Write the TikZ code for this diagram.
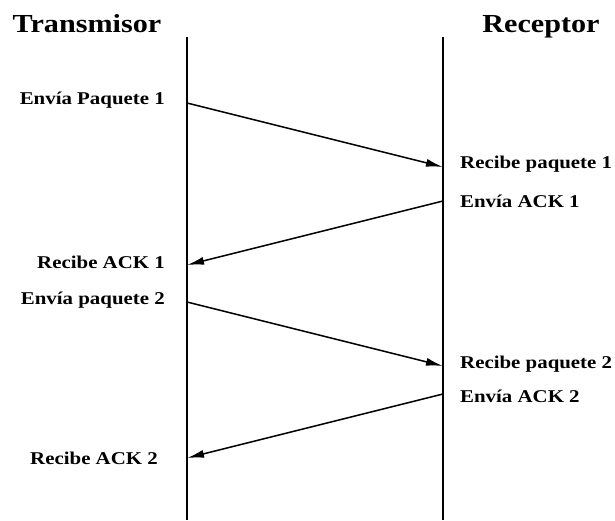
\documentclass[tikz,border=0pt]{standalone}
\usepackage{fontspec}
\setmainfont{Liberation Serif}[FakeStretch=1.16]
\usetikzlibrary{arrows.meta}
\begin{document}
\begin{tikzpicture}[x=1pt,y=-1pt,
  lifeline/.style={line width=1.6pt},
  msg/.style={line width=1.5pt,-{Latex[length=17pt,width=8pt]}},
  title/.style={font=\bfseries\fontsize{26}{29}\selectfont, inner sep=0pt},
  lbl/.style={font=\bfseries\fontsize{18}{21}\selectfont, inner sep=0pt}]
\useasboundingbox (0,0) rectangle (615,520);
% lifelines
\coordinate (ttop) at (187,37);
\coordinate (tbot) at (187,520);
\coordinate (rtop) at (443,37);
\coordinate (rbot) at (443,520);
\draw[lifeline] (ttop) -- (tbot);
\draw[lifeline] (rtop) -- (rbot);
% titles
\node[title, anchor=base] (tx) at (87,32) {Transmisor};
\node[title, anchor=base] (rx) at (541,32) {Receptor};
% event points
\coordinate (s1) at (187,103);
\coordinate (r1) at (443,167);
\coordinate (a1) at (443,201);
\coordinate (k1) at (187,265);
\coordinate (s2) at (187,302);
\coordinate (r2) at (443,366);
\coordinate (a2) at (443,394);
\coordinate (k2) at (187,458);
% messages
\draw[msg] (s1) -- (r1);
\draw[msg] (a1) -- (k1);
\draw[msg] (s2) -- (r2);
\draw[msg] (a2) -- (k2);
% labels
\node[lbl, anchor=base east] (ls1) at (165,104) {Envía Paquete 1};
\node[lbl, anchor=base west] (lr1) at (460,168) {Recibe paquete 1};
\node[lbl, anchor=base west] (la1) at (460,207) {Envía ACK 1};
\node[lbl, anchor=base east] (lk1) at (165,268) {Recibe ACK 1};
\node[lbl, anchor=base east] (ls2) at (165,304) {Envía paquete 2};
\node[lbl, anchor=base west] (lr2) at (460,368) {Recibe paquete 2};
\node[lbl, anchor=base west] (la2) at (460,402) {Envía ACK 2};
\node[lbl, anchor=base east] (lk2) at (158,464) {Recibe ACK 2};
\end{tikzpicture}
\end{document}
